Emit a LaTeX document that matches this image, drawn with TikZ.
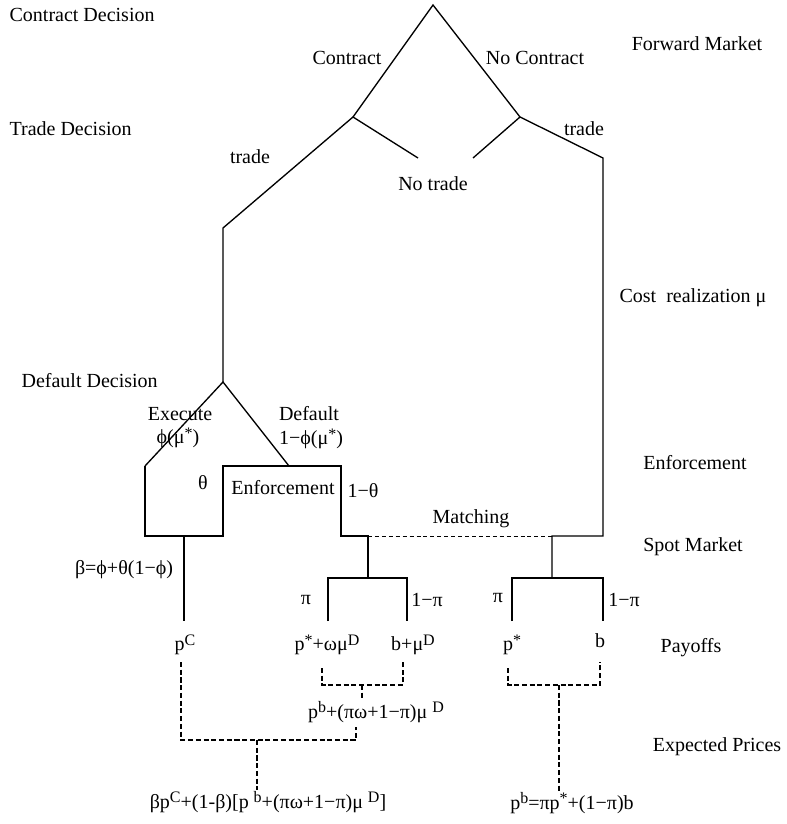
\documentclass[tikz,border=0pt]{standalone}
\usepackage{fontspec}
\setmainfont{Liberation Serif}
\usetikzlibrary{positioning}
\newcommand{\hi}[1]{\raisebox{0.6ex}{\fontsize{12}{13}\selectfont #1}}

\begin{document}
\begin{tikzpicture}[
    x=0.75pt, y=-0.75pt,
    branch/.style={line width=1pt},
    expect/.style={line width=1.1pt, dash pattern=on 3.8pt off 2pt},
    stage/.style={font=\fontsize{15}{18}\selectfont, inner sep=1pt},
    lbl/.style={font=\fontsize{15}{18}\selectfont, inner sep=1pt},
]
    \useasboundingbox (0,0) rectangle (786,824);

    % Stages
    \node[stage, anchor=west] (sContract) at (8,15) {Contract Decision};
    \node[stage, anchor=west] (sTrade) at (8,129) {Trade Decision};
    \node[stage, anchor=west] (sDefault) at (20,381) {Default Decision};
    \node[stage] (sForward) at (697,44) {Forward Market};
    \node[stage] (sCost) at (693,298) {Cost\ \ realization μ};
    \node[stage] (sEnforce) at (695,463) {Enforcement};
    \node[stage] (sSpot) at (693,547) {Spot Market};
    \node[stage] (sPayoff) at (691,648) {Payoffs};
    \node[stage] (sExpect) at (717,747) {Expected Prices};

    % Tree points
    \coordinate (root) at (433,5);
    \coordinate (con) at (353,117);
    \coordinate (nocon) at (520,117);
    \coordinate (ctrade) at (223,228);
    \coordinate (cnotrade) at (418,158);
    \coordinate (nnotrade) at (473,158);
    \coordinate (ntrade) at (603,158);
    \coordinate (dflt) at (223,382);
    \coordinate (exec) at (145,466);
    \coordinate (def) at (289,466);
    \coordinate (enfA) at (223,466);
    \coordinate (enfB) at (341,466);
    \coordinate (beta) at (184,536);
    \coordinate (match) at (368,536);
    \coordinate (rmatch) at (552,536);
    \coordinate (spotL) at (368,578);
    \coordinate (spotR) at (552,578);
    \coordinate (leafC) at (184,621);
    \coordinate (leafA) at (328,621);
    \coordinate (leafB) at (407,621);
    \coordinate (leafD) at (512,621);
    \coordinate (leafE) at (603,621);

    % Branches
    \draw[branch] (con) -- (root) -- (nocon);
    \draw[branch] (cnotrade) -- (con) -- (ctrade) -- (dflt);
    \draw[branch] (nnotrade) -- (nocon) -- (ntrade) |- (rmatch) -- (spotR);
    \draw[branch] (exec) -- (dflt) -- (def);
    \draw[branch] (exec) |- (beta) -| (enfA) -- (enfB) |- (match) -- (spotL);
    \draw[branch] (beta) -- (leafC);
    \draw[branch] (leafA) |- (spotL) -| (leafB);
    \draw[branch] (leafD) |- (spotR) -| (leafE);
    \draw[line width=0.7pt, dash pattern=on 3pt off 2.2pt] (match) -- (rmatch);

    % Branch labels
    \node[lbl] (lContract) at (347,58) {Contract};
    \node[lbl] (lNoContract) at (535,58) {No Contract};
    \node[lbl] (lTradeL) at (250,157) {trade};
    \node[lbl] (lTradeR) at (584,129) {trade};
    \node[lbl] (lNoTrade) at (433,184) {No trade};
    \node[lbl] (lExec) at (180,414) {Execute};
    \node[lbl] (lExecP) at (178,438) {ϕ(μ\hi{*})};
    \node[lbl] (lDef) at (309,414) {Default};
    \node[lbl] (lDefP) at (311,439) {1−ϕ(μ\hi{*})};
    \node[lbl] (lTheta) at (203,483) {θ};
    \node[lbl] (lEnf) at (283,488) {Enforcement};
    \node[lbl] (lNoTheta) at (363,491) {1−θ};
    \node[lbl] (lMatch) at (471,519) {Matching};
    \node[lbl] (lBeta) at (124,570) {β=ϕ+θ(1−ϕ)};
    \node[lbl] (lPiL) at (306,600) {π};
    \node[lbl] (lNoPiL) at (427,600) {1−π};
    \node[lbl] (lPiR) at (498,598) {π};
    \node[lbl] (lNoPiR) at (624,600) {1−π};

    % Payoffs
    \node[lbl] (pC) at (185,645) {p\hi{C}};
    \node[lbl] (pDa) at (327,645) {p\hi{*}+ωμ\hi{D}};
    \node[lbl] (pDb) at (413,645) {b+μ\hi{D}};
    \node[lbl] (pS) at (512,645) {p\hi{*}};
    \node[lbl] (pB) at (600,641) {b};

    % Expected prices
    \node[lbl] (eD) at (376,712) {p\hi{b}+(πω+1−π)μ \hi{D}};
    \node[lbl] (eC) at (268,802) {βp\hi{C}+(1-β)[p \hi{b}+(πω+1−π)μ \hi{D}]};
    \node[lbl] (eR) at (572,803) {p\hi{b}=πp\hi{*}+(1−π)b};

    \coordinate (avgD) at (362,685);
    \coordinate (avgC) at (257,740);
    \coordinate (avgR) at (559,685);
    \draw[expect] (322,668) |- (avgD) -| (403,662);
    \draw[expect] (avgD) -- (avgD |- eD.north);
    \draw[expect] (181,662) |- (avgC) -| (356,727);
    \draw[expect] (avgC) -- (avgC |- eC.north);
    \draw[expect] (508,668) |- (avgR) -| (600,662);
    \draw[expect] (avgR) -- (avgR |- eR.north);
\end{tikzpicture}
\end{document}
